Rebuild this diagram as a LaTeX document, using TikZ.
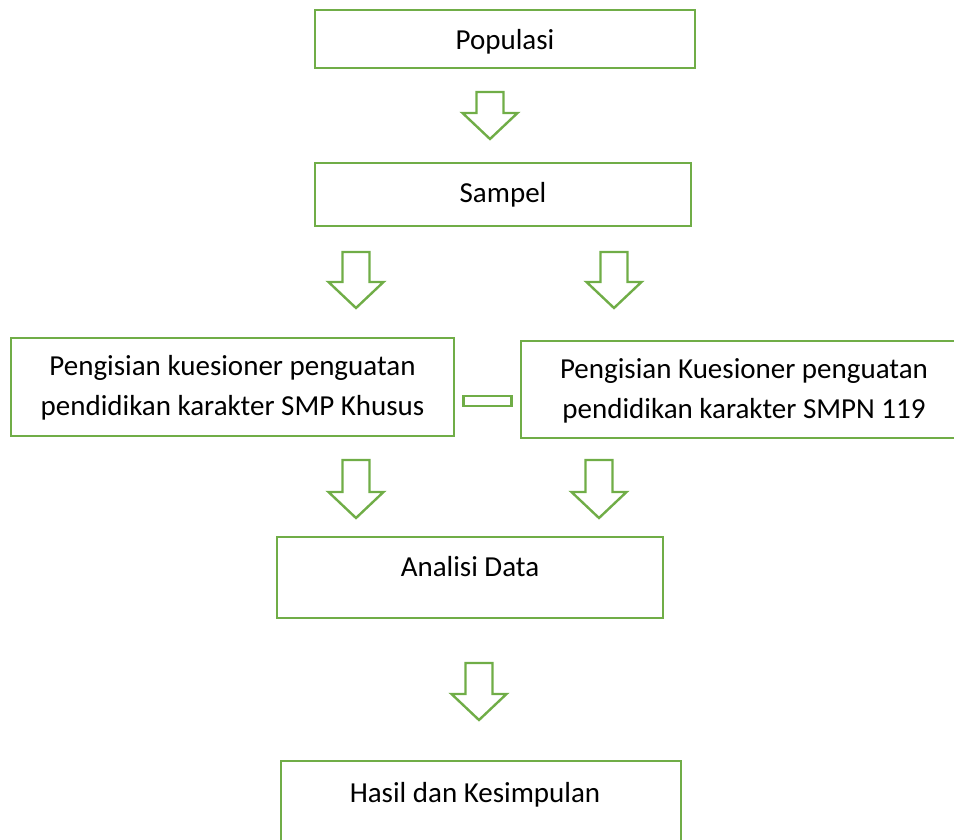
\documentclass[tikz,border=0pt]{standalone}
\usepackage{fontspec}
\setmainfont{Carlito}
\usetikzlibrary{
	calc
}

\definecolor{boxgreen}{HTML}{70AD47}

% block arrow pointing down: x, top y, bottom y
\newcommand{\flowarrow}[3]{%
	\draw[arrowline] ({#1-13.5},#2) -- ({#1+13.5},#2) -- ({#1+13.5},{#3-26}) -- ({#1+27.5},{#3-26})
		-- (#1,#3) -- ({#1-27.5},{#3-26}) -- ({#1-13.5},{#3-26}) -- cycle;%
}

\begin{document}
\begin{tikzpicture}[
	x=1pt, y=-1pt,
	box/.style={draw=boxgreen, line width=2.4pt, inner sep=0, align=center,
		font=\fontsize{29}{40}\selectfont},
	arrowline/.style={draw=boxgreen, line width=2.4pt, line join=miter}
]
	\useasboundingbox (0,0) rectangle (954,840);
	\clip (0,0) rectangle (954,840);

	\node(pop)[box, minimum width=380pt, minimum height=58pt, text height=26pt] at (505,39) {Populasi};
	\node(sam)[box, minimum width=376pt, minimum height=63pt] at (503,194.5) {Sampel};

	\node(kl)[box, minimum width=443pt, minimum height=98pt, text depth=3pt] at (232.5,387)
		{Pengisian kuesioner penguatan\\pendidikan karakter SMP Khusus};
	\node(kr)[box, minimum width=446pt, minimum height=97pt, text depth=1pt] at (744,389.5)
		{Pengisian Kuesioner penguatan\\pendidikan karakter SMPN 119};
	\node(link)[draw=boxgreen, line width=2.4pt, inner sep=0, minimum width=48pt, minimum height=10pt]
		at ($(kl.east)!0.5!(kr.west) + (0,13)$) {};

	\node(ana)[box, minimum width=386pt, minimum height=81pt, text depth=21.5pt] at (470,577.5) {Analisi Data};
	\node(has)[box, minimum width=400pt, minimum height=88pt, text depth=26pt] at (481,805)
		{Hasil dan Kesimpulan\hspace*{12pt}};

	\flowarrow{490}{92}{139}
	\flowarrow{356}{252}{308}
	\flowarrow{614}{252}{308}
	\flowarrow{356}{460}{518}
	\flowarrow{599}{460}{518}
	\flowarrow{479}{663}{720}
\end{tikzpicture}
\end{document}
